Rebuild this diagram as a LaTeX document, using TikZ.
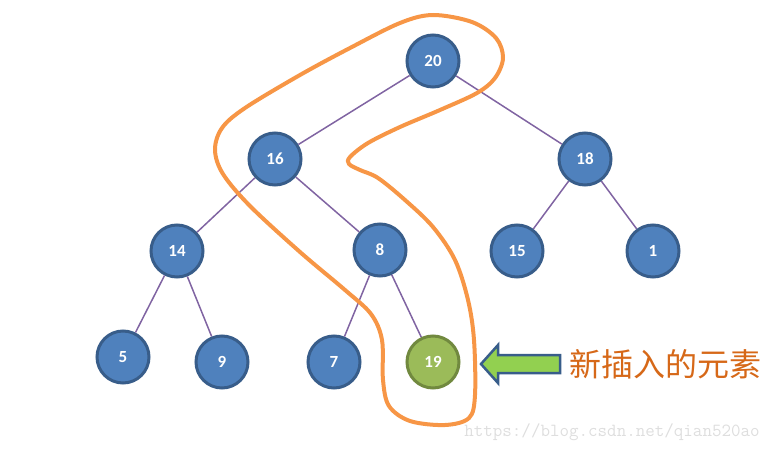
\documentclass[tikz,border=0pt]{standalone}
\usepackage{fontspec}
\usepackage{tikz}
\setsansfont{Carlito}
\newfontfamily\cjkfont{Noto Sans CJK SC}
\definecolor{nodeblue}{RGB}{79,129,189}
\definecolor{nodeedge}{RGB}{56,93,138}
\definecolor{newgreen}{RGB}{155,187,89}
\definecolor{newedge}{RGB}{113,137,63}
\definecolor{linkpurple}{RGB}{128,100,162}
\definecolor{looporange}{RGB}{247,150,70}
\definecolor{arrowgreen}{RGB}{146,208,80}
\definecolor{labelbrown}{RGB}{214,104,24}

\begin{document}
\begin{tikzpicture}[x=1pt,y=-1pt,
        heapnode/.style={circle,draw=nodeedge,fill=nodeblue,line width=3pt,minimum size=52pt,inner sep=0pt,text=white,font=\sffamily\bfseries\fontsize{17}{17}\selectfont},
        newnode/.style={heapnode,draw=newedge,fill=newgreen},
        link/.style={draw=linkpurple,line width=1.5pt}]
        \useasboundingbox (0,0) rectangle (779,452);

        % 绘制结点
        \node[heapnode] (n20) at (433,61) {20};
        \node[heapnode] (n16) at (275,159) {16};
        \node[heapnode] (n18) at (585,159) {18};
        \node[heapnode] (n14) at (177,251) {14};
        \node[heapnode] (n8) at (380,250) {8};
        \node[heapnode] (n15) at (517,251) {15};
        \node[heapnode] (n1) at (653,251) {1};
        \node[heapnode] (n5) at (123,357) {5};
        \node[heapnode] (n9) at (222,362) {9};
        \node[heapnode] (n7) at (334,362) {7};
        \node[newnode] (n19) at (433,362) {19};

        % 绘制连线
        \draw[link] (n20) -- (n16);
        \draw[link] (n20) -- (n18);
        \draw[link] (n16) -- (n14);
        \draw[link] (n16) -- (n8);
        \draw[link] (n18) -- (n15);
        \draw[link] (n18) -- (n1);
        \draw[link] (n14) -- (n5);
        \draw[link] (n14) -- (n9);
        \draw[link] (n8) -- (n7);
        \draw[link] (n8) -- (n19);

        % 绘制路径圈
        \draw[looporange,line width=4pt,line join=round] plot[smooth cycle,tension=0.55] coordinates {
            (433,15) (472,22) (496,38) (503,58) (495,78) (477,93) (440,110)
            (400,127) (368,143) (350,157) (349,164) (360,170) (378,178)
            (405,200) (433,227) (455,260) (468,300) (474,340) (475,395)
            (469,418) (445,425) (410,421) (389,406) (383,380) (382,340)
            (371,314) (345,290) (300,252) (250,206) (223,174) (215,150)
            (222,128) (245,108) (300,75) (350,48) (400,23)};

        % 绘制箭头
        \draw[fill=arrowgreen,draw=nodeedge,line width=2.5pt,line join=miter]
            (560,355) -- (498,355) -- (498,345) -- (481,364) -- (498,383)
            -- (498,373) -- (560,373) -- cycle;

        % 添加标签
        \node[text=labelbrown,font=\cjkfont\fontsize{32}{32}\selectfont] (label) at (665,364) {新插入的元素};
        \node[text=black!13,font=\ttfamily\fontsize{18.5}{18.5}\selectfont] (mark) at (612,432) {https://blog.csdn.net/qian520ao};
\end{tikzpicture}
\end{document}
